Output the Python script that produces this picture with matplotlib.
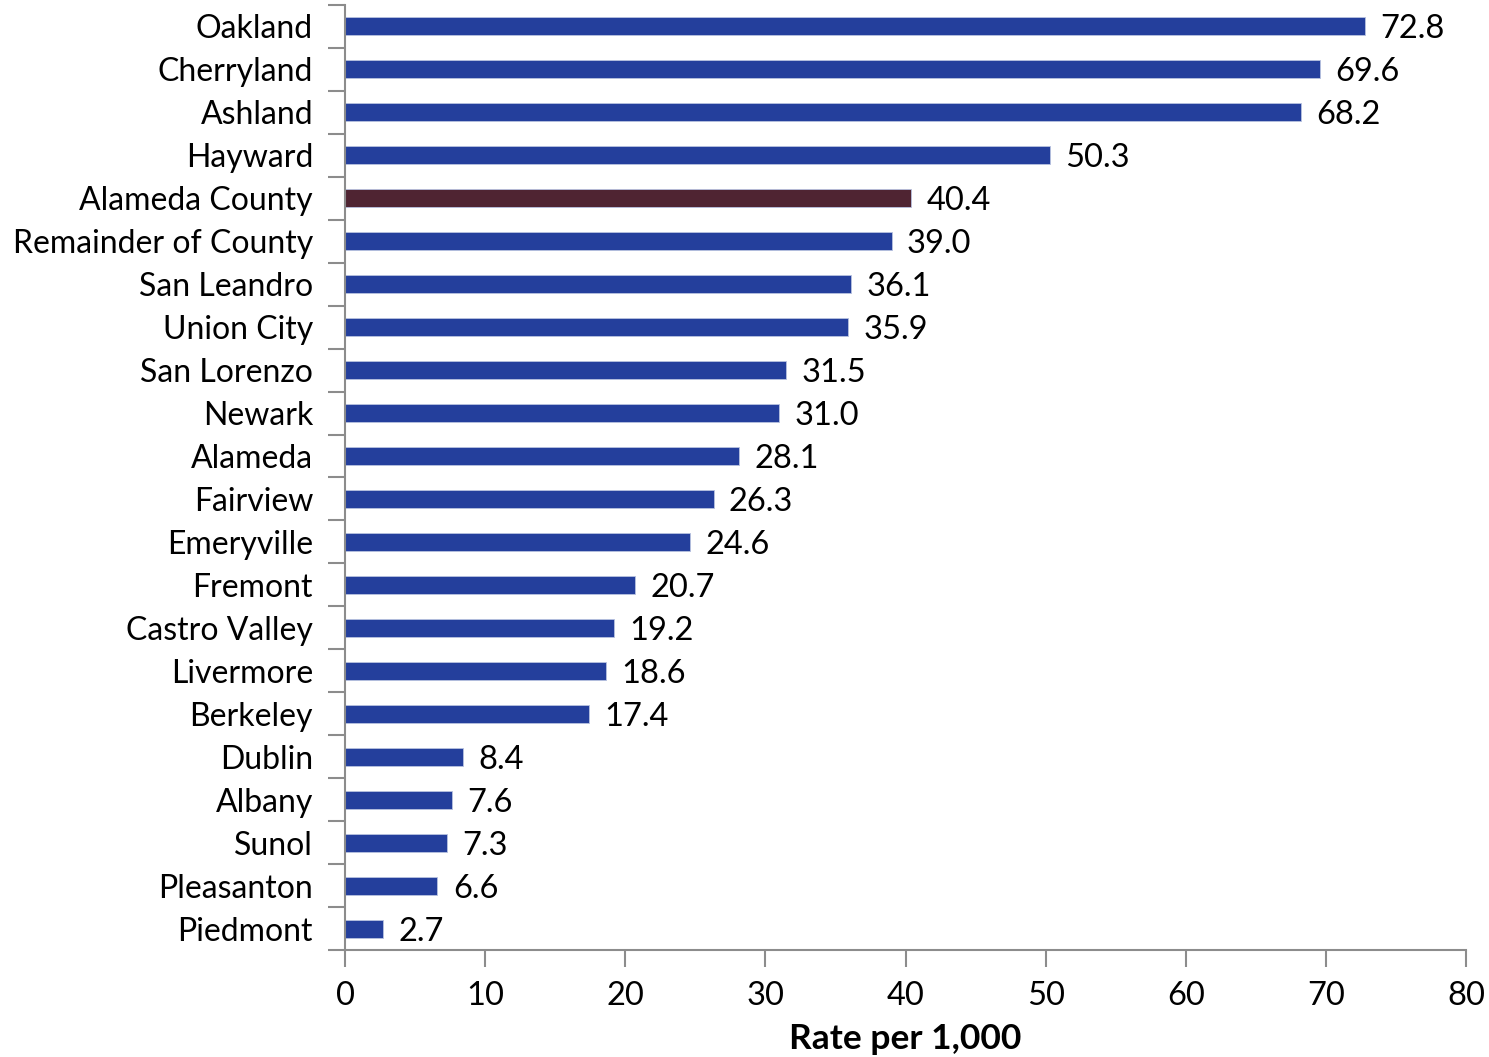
import matplotlib
matplotlib.use('Agg')
import matplotlib.pyplot as plt
import numpy as np

# данные
places = ["Oakland", "Cherryland", "Ashland", "Hayward", "Alameda County",
          "Remainder of County", "San Leandro", "Union City", "San Lorenzo",
          "Newark", "Alameda", "Fairview", "Emeryville", "Fremont",
          "Castro Valley", "Livermore", "Berkeley", "Dublin", "Albany",
          "Sunol", "Pleasanton", "Piedmont"]
rates = [72.8, 69.6, 68.2, 50.3, 40.4, 39.0, 36.1, 35.9, 31.5, 31.0, 28.1,
         26.3, 24.6, 20.7, 19.2, 18.6, 17.4, 8.4, 7.6, 7.3, 6.6, 2.7]
highlight = "Alameda County"
x_ticks = [0, 10, 20, 30, 40, 50, 60, 70, 80]

plt.rcParams['font.family'] = ['Lato', 'DejaVu Sans']

blue = '#243F9C'
maroon = '#4F2432'
grey = '#8C8C8C'

fig = plt.figure(figsize=(14.89, 10.57), dpi=100)
ax = fig.add_axes([0.2317, 0.1012, 0.7529, 0.8941])

n = len(places)
y = np.arange(n)[::-1]
colors = [maroon if p == highlight else blue for p in places]
ax.barh(y, rates, height=0.42, color=colors, edgecolor='#B8C2E0', linewidth=0.6)

# подписи значений справа от столбцов
for yi, v in zip(y, rates):
    ax.text(v + 1.1, yi, f"{v:.1f}", va='center_baseline', ha='left', fontsize=23.5)

ax.set_xlim(0, 80)
ax.set_ylim(-0.5, n - 0.5)
ax.set_xticks(x_ticks)
ax.set_yticks(y)
ax.set_yticklabels(places, va='center_baseline')
ax.set_yticks(np.arange(n + 1) - 0.5, minor=True)
ax.tick_params(axis='y', which='major', length=0, pad=23, labelsize=23)
ax.tick_params(axis='y', which='minor', length=12, width=1.5, color=grey, direction='out')
ax.tick_params(axis='x', length=12, width=1.5, color=grey, direction='out', labelsize=23.5, pad=10)

for s in ['top', 'right']:
    ax.spines[s].set_visible(False)
for s in ['left', 'bottom']:
    ax.spines[s].set_color(grey)
    ax.spines[s].set_linewidth(1.5)

ax.set_xlabel("Rate per 1,000", fontsize=25.5, fontweight='bold', labelpad=9)

fig.savefig('out.png', dpi=100)
